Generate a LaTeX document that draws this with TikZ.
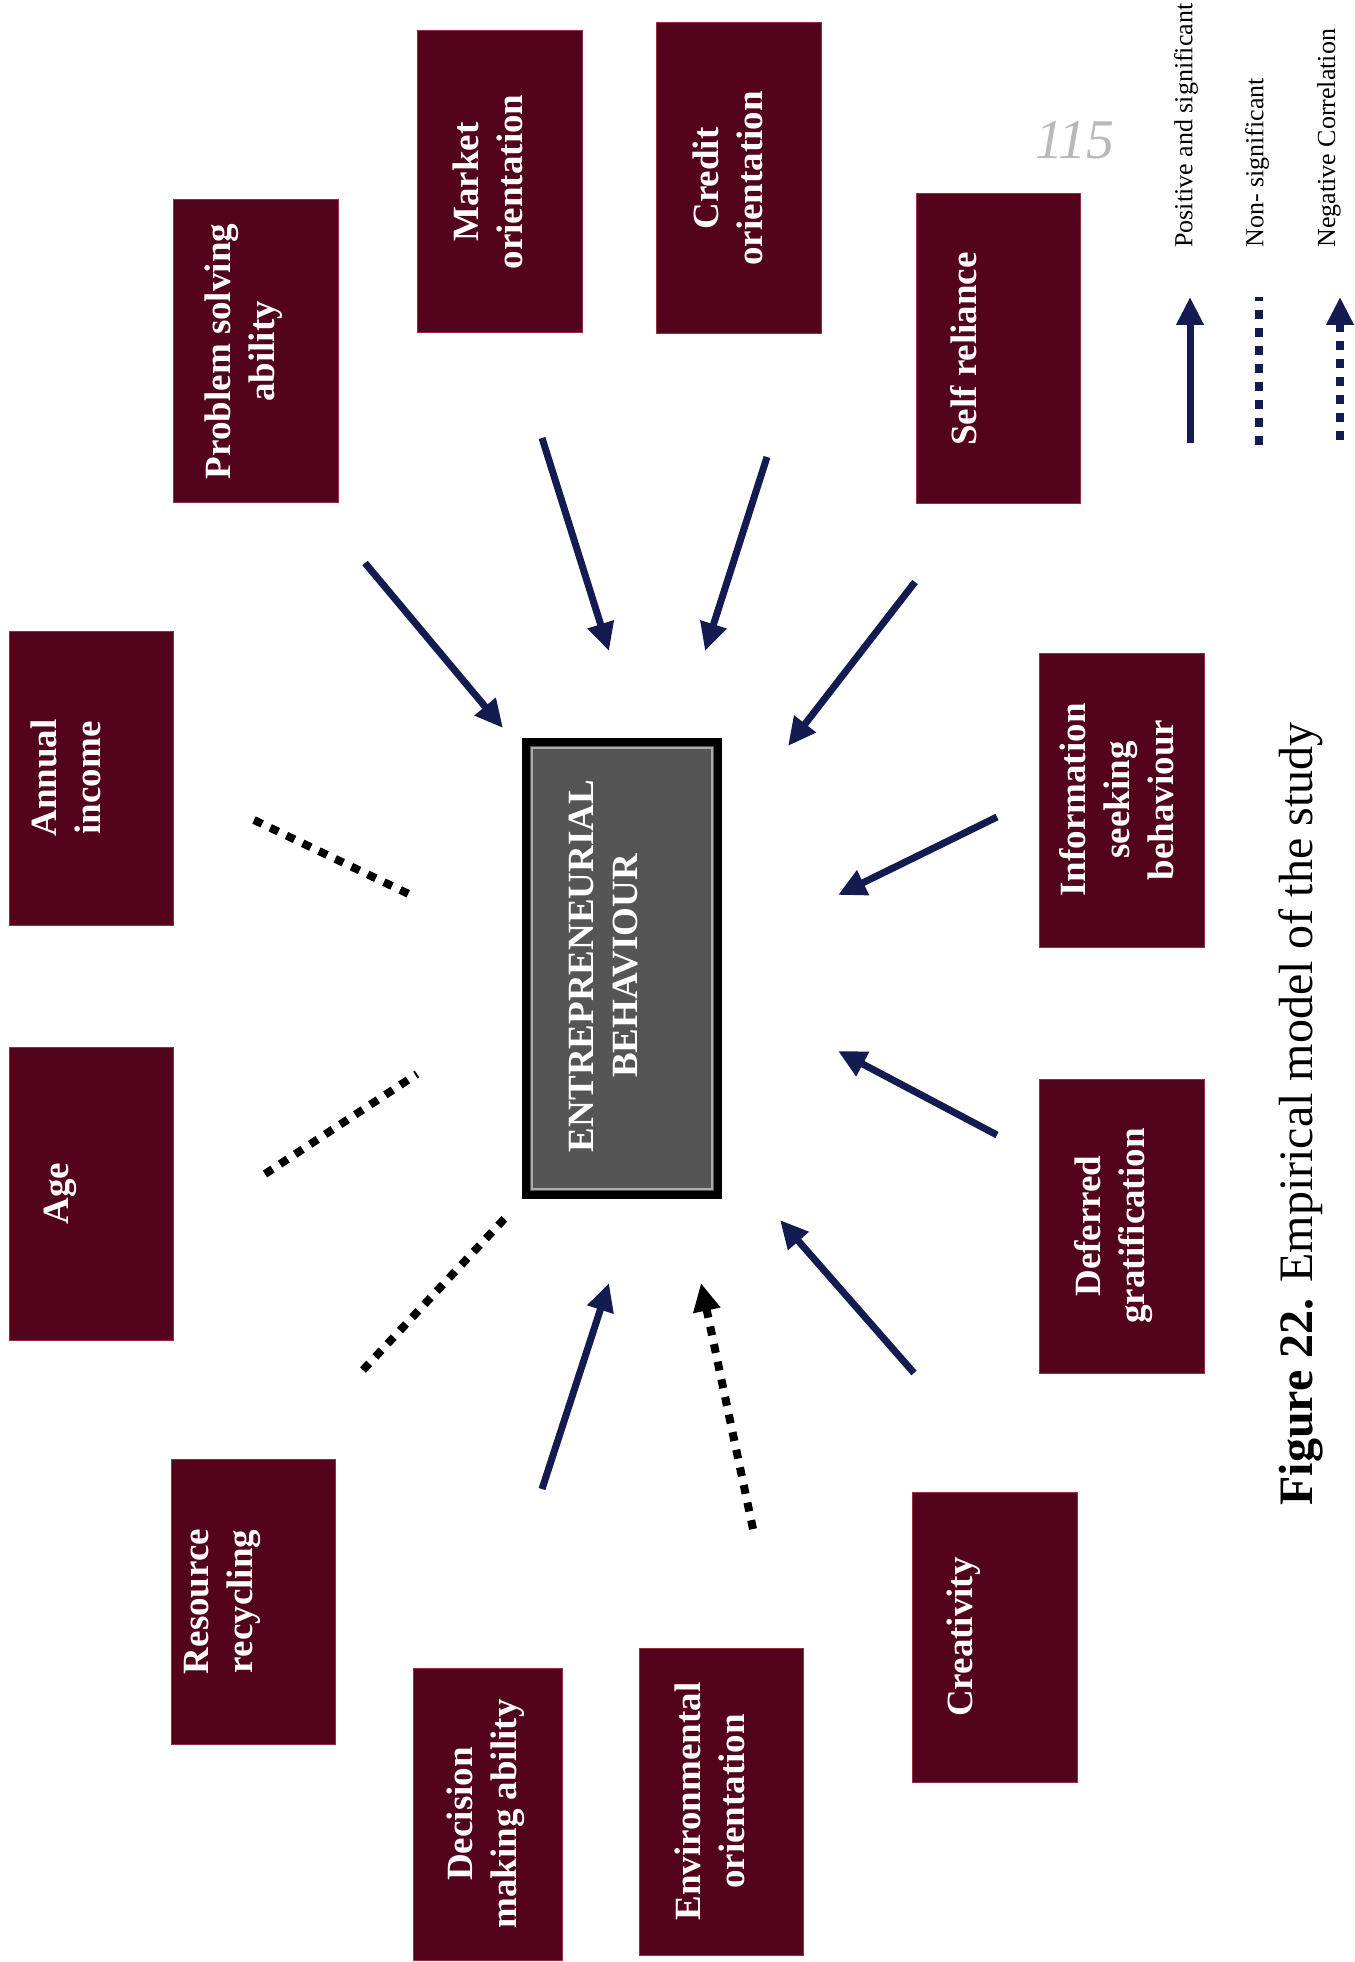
\documentclass[tikz,border=0pt]{standalone}
\usepackage{fontspec}
\setmainfont{Liberation Serif}
\usepackage{tikz}
\usetikzlibrary{arrows.meta}
\usepackage{xcolor}
\definecolor{maroonbox}{RGB}{84,3,28}
\definecolor{maroonedge}{RGB}{150,45,65}
\definecolor{navyarrow}{RGB}{20,27,80}
\definecolor{ebfill}{RGB}{85,85,85}
\tikzstyle{factorbox}=[rectangle, fill=maroonbox, draw=maroonedge, line width=0.5pt, rotate=90, inner sep=0pt]
\tikzstyle{flabel}=[text=white, font=\fontsize{18.5}{22}\selectfont\bfseries, align=center, rotate=90, inner sep=0pt]
\tikzstyle{legtext}=[font=\fontsize{13}{15}\selectfont, rotate=90, anchor=west, inner sep=0pt]
\tikzstyle{possig}=[draw=navyarrow, line width=3.5pt, -{Triangle[length=14pt,width=13pt]}]
\tikzstyle{nonsig}=[draw=black, line width=4pt, dash pattern=on 4.5pt off 4.5pt]
\tikzstyle{negcor}=[nonsig, -{Triangle[length=14pt,width=13pt]}]

\begin{document}
\begin{tikzpicture}[x=0.5pt,y=-0.5pt]
\useasboundingbox (0,0) rectangle (1354,1962);
% centre
\node[rectangle, rotate=90, fill=ebfill, draw=black, line width=4pt, minimum width=226.5pt, minimum height=96pt] (eb) at (622,968.5) {};
\draw[gray!65, line width=1pt] ([shift={(5pt,5pt)}]eb.north west) rectangle ([shift={(-5pt,-5pt)}]eb.south east);
\node[flabel] (eb-t) at (604,966) {ENTREPRENEURIAL\\BEHAVIOUR};
% factors
\node[factorbox, minimum width=151.5pt, minimum height=82.5pt] (prob) at (255.5,351.5) {};
\node[flabel] (prob-t) at (244,351.5) {Problem solving\\ability};
\node[factorbox, minimum width=151pt, minimum height=82.5pt] (market) at (499.5,182) {};
\node[flabel] (market-t) at (488,182) {Market\\orientation};
\node[factorbox, minimum width=155.5pt, minimum height=82.5pt] (credit) at (738.5,178.5) {};
\node[flabel] (credit-t) at (728,178.5) {Credit\\orientation};
\node[factorbox, minimum width=155pt, minimum height=82pt] (self) at (998,349) {};
\node[flabel] (self-t) at (964,349) {Self reliance};
\node[factorbox, minimum width=147pt, minimum height=82.5pt] (info) at (1121.5,800) {};
\node[flabel] (info-t) at (1117,800) {Information\\seeking\\behaviour};
\node[factorbox, minimum width=147pt, minimum height=82.5pt] (defer) at (1121.5,1226) {};
\node[flabel] (defer-t) at (1114,1226) {Deferred\\gratification};
\node[factorbox, minimum width=145pt, minimum height=82.5pt] (creat) at (994.5,1637) {};
\node[flabel] (creat-t) at (964,1637) {Creativity};
\node[factorbox, minimum width=153.5pt, minimum height=82pt] (env) at (721,1801.5) {};
\node[flabel] (env-t) at (710,1801.5) {Environmental\\orientation};
\node[factorbox, minimum width=146pt, minimum height=74.5pt] (decis) at (487.5,1814) {};
\node[flabel] (decis-t) at (486,1814) {Decision\\making ability};
\node[factorbox, minimum width=142.5pt, minimum height=82pt] (recyc) at (253,1601.5) {};
\node[flabel] (recyc-t) at (222,1601.5) {Resource\\recycling};
\node[factorbox, minimum width=146.5pt, minimum height=82pt] (age) at (91,1193.5) {};
\node[flabel] (age-t) at (60,1193.5) {Age};
\node[factorbox, minimum width=147pt, minimum height=82pt] (income) at (91,778) {};
\node[flabel] (income-t) at (66,778) {Annual\\income};
% links
\coordinate (ps1) at (365,563);  \coordinate (ps2) at (503,728);
\coordinate (mo1) at (542,438);  \coordinate (mo2) at (609,651);
\coordinate (co1) at (767,457);  \coordinate (co2) at (705,651);
\coordinate (sr1) at (915,582);  \coordinate (sr2) at (788,746);
\coordinate (is1) at (997,817);  \coordinate (is2) at (838,895);
\coordinate (dg1) at (997,1135); \coordinate (dg2) at (838,1051);
\coordinate (cr1) at (914,1373); \coordinate (cr2) at (780,1220);
\coordinate (dm1) at (542,1489); \coordinate (dm2) at (609,1283);
\coordinate (eo1) at (753,1529); \coordinate (eo2) at (701,1283);
\coordinate (rr1) at (363,1370); \coordinate (rr2) at (507,1216);
\coordinate (ag1) at (265,1174); \coordinate (ag2) at (417,1074);
\coordinate (ai1) at (254,820);  \coordinate (ai2) at (415,897);
\draw[possig] (ps1) -- (ps2);
\draw[possig] (mo1) -- (mo2);
\draw[possig] (co1) -- (co2);
\draw[possig] (sr1) -- (sr2);
\draw[possig] (is1) -- (is2);
\draw[possig] (dg1) -- (dg2);
\draw[possig] (cr1) -- (cr2);
\draw[possig] (dm1) -- (dm2);
\draw[negcor] (eo1) -- (eo2);
\draw[nonsig] (rr1) -- (rr2);
\draw[nonsig] (ag1) -- (ag2);
\draw[nonsig] (ai1) -- (ai2);
% legend
\coordinate (lp1) at (1190,443); \coordinate (lp2) at (1190,297);
\coordinate (ln1) at (1259,445); \coordinate (ln2) at (1259,297);
\coordinate (lc1) at (1340,440); \coordinate (lc2) at (1340,297);
\draw[possig] (lp1) -- (lp2);
\draw[nonsig, draw=navyarrow] (ln1) -- (ln2);
\draw[negcor, draw=navyarrow] (lc1) -- (lc2);
\node[legtext] (lp-t) at (1186,248) {Positive and significant};
\node[legtext] (ln-t) at (1257,248) {Non- significant};
\node[legtext] (lc-t) at (1329,248) {Negative Correlation};
% caption
\node[rotate=90, font=\fontsize{24}{28}\selectfont, inner sep=0pt] (cap) at (1301,1114) {\textbf{Figure 22.} Empirical model of the study};
\node[text=gray!55, font=\fontsize{28}{28}\selectfont\itshape, inner sep=0pt] (pg) at (1075,140) {115};
\end{tikzpicture}
\end{document}
